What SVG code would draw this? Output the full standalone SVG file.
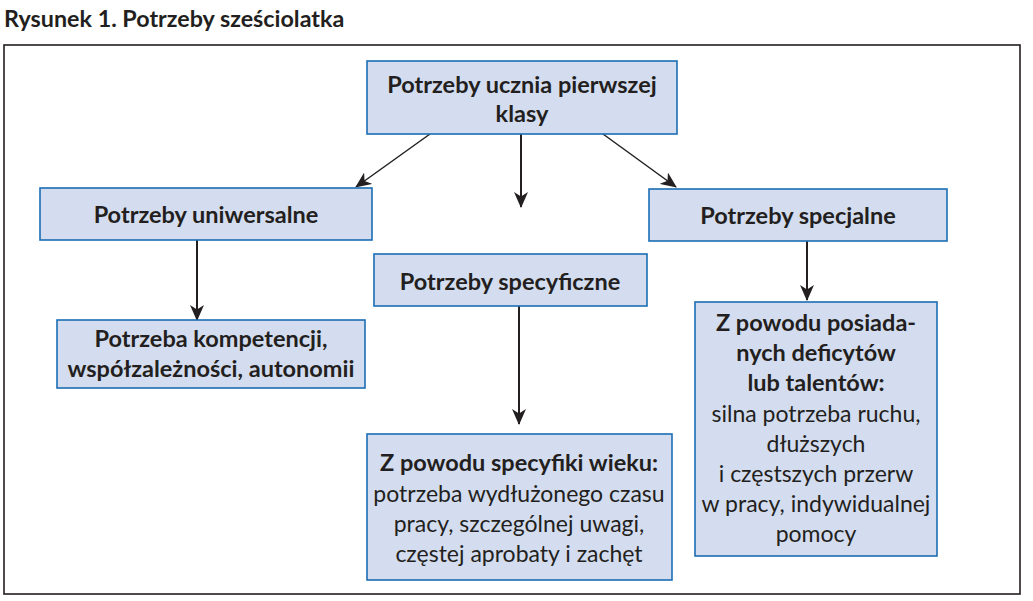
<svg xmlns="http://www.w3.org/2000/svg" width="1033" height="601" viewBox="0 0 1033 601">
<style>
.box{fill:#d4ddef;stroke:#1b6db3;stroke-width:1.6}
.t{font-family:Lato,"Open Sans","Noto Sans",sans-serif;fill:#231f20;text-anchor:middle}
.b{font-weight:bold;font-size:23.5px}
.r{font-weight:normal;font-size:23px}
.c{stroke:#231f20;fill:none}
</style>
<defs>
<marker id="ah" viewBox="0 0 16 14" refX="15" refY="7" markerWidth="16" markerHeight="14" markerUnits="userSpaceOnUse" orient="auto">
<path d="M0,0 L16,7 L0,14 L4.5,7 Z" fill="#231f20"/>
</marker>
</defs>
<rect width="1033" height="601" fill="#fff"/>
<text x="4" y="27" style="font-family:Lato,'Open Sans',sans-serif;font-weight:bold;font-size:23.3px;fill:#231f20">Rysunek 1. Potrzeby sześciolatka</text>
<rect x="4" y="45" width="1016" height="549" fill="none" stroke="#231f20" stroke-width="1.6"/>
<g id="connectors">
<line class="c" x1="430" y1="134" x2="356" y2="187" stroke-width="1.5" marker-end="url(#ah)"/>
<line class="c" x1="521" y1="134" x2="521" y2="207" stroke-width="2" marker-end="url(#ah)"/>
<line class="c" x1="603" y1="134" x2="676" y2="187" stroke-width="1.5" marker-end="url(#ah)"/>
<line class="c" x1="197" y1="240" x2="197" y2="320" stroke-width="2" marker-end="url(#ah)"/>
<line class="c" x1="807" y1="241" x2="807" y2="300" stroke-width="2" marker-end="url(#ah)"/>
<line class="c" x1="519" y1="306" x2="519" y2="424" stroke-width="2" marker-end="url(#ah)"/>
</g>
<g id="root">
<rect class="box" x="367" y="61" width="310" height="73"/>
<text class="t b" x="522" y="93">Potrzeby ucznia pierwszej</text>
<text class="t b" x="522" y="122">klasy</text>
</g>
<g id="uniwersalne">
<rect class="box" x="40" y="188" width="332" height="52"/>
<text class="t b" x="206" y="223">Potrzeby uniwersalne</text>
</g>
<g id="kompetencje">
<rect class="box" x="57" y="320" width="308" height="68"/>
<text class="t b" x="211" y="347">Potrzeba kompetencji,</text>
<text class="t b" x="211" y="377">współzależności, autonomii</text>
</g>
<g id="specjalne">
<rect class="box" x="649" y="189" width="298" height="52"/>
<text class="t b" x="798" y="224">Potrzeby specjalne</text>
</g>
<g id="deficyty">
<rect class="box" x="695" y="302" width="242" height="254"/>
<text class="t b" x="816" y="331">Z powodu posiada-</text>
<text class="t b" x="816" y="361">nych deficytów</text>
<text class="t b" x="816" y="391">lub talentów:</text>
<text class="t r" x="816" y="422">silna potrzeba ruchu,</text>
<text class="t r" x="816" y="452">dłuższych</text>
<text class="t r" x="816" y="482">i częstszych przerw</text>
<text class="t r" x="816" y="512">w pracy, indywidualnej</text>
<text class="t r" x="816" y="542">pomocy</text>
</g>
<g id="specyficzne">
<rect class="box" x="374" y="254" width="273" height="52"/>
<text class="t b" x="510" y="290">Potrzeby specyficzne</text>
</g>
<g id="wiek">
<rect class="box" x="367" y="434" width="305" height="146"/>
<text class="t b" x="519" y="471">Z powodu specyfiki wieku:</text>
<text class="t r" x="519" y="502">potrzeba wydłużonego czasu</text>
<text class="t r" x="519" y="532">pracy, szczególnej uwagi,</text>
<text class="t r" x="519" y="562">częstej aprobaty i zachęt</text>
</g>
</svg>
